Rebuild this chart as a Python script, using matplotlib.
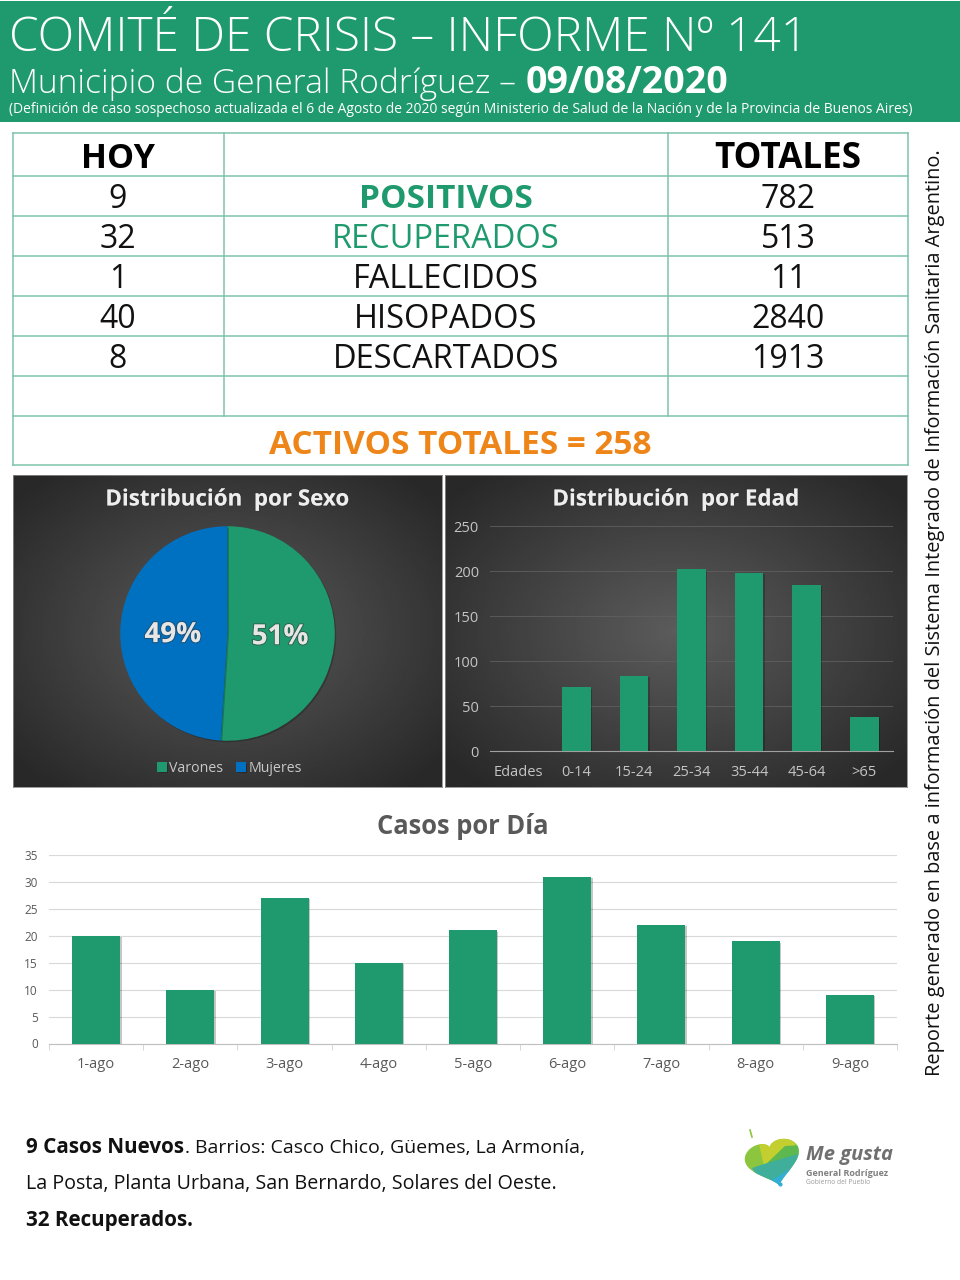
import numpy as np
import matplotlib
matplotlib.use("Agg")
import matplotlib.pyplot as plt
import matplotlib.patheffects as pe
from matplotlib.patches import Rectangle, Polygon

plt.rcParams['font.family'] = ['Open Sans', 'DejaVu Sans']

W, H = 960, 1280
GREEN = '#1f9a6e'
BLUE = '#0070c0'
LINE = '#7fc4a9'
ORANGE = '#ee8518'

# tabla
hoy = ['9', '32', '1', '40', '8']
etiquetas = ['POSITIVOS', 'RECUPERADOS', 'FALLECIDOS', 'HISOPADOS', 'DESCARTADOS']
totales = ['782', '513', '11', '2840', '1913']

# graficos
sexo_labels = ['Varones', 'Mujeres']
sexo_vals = [51, 49]
edad_labels = ['Edades', '0-14', '15-24', '25-34', '35-44', '45-64', '>65']
edad_vals = [0, 71, 84, 202, 198, 185, 38]
dias = ['1-ago', '2-ago', '3-ago', '4-ago', '5-ago', '6-ago', '7-ago', '8-ago', '9-ago']
casos = [20, 10, 27, 15, 21, 31, 22, 19, 9]


def caja(x0, y0, x1, y1, **kw):
    # ejes en pixeles de la imagen, y para abajo
    return fig.add_axes([x0 / W, 1 - y1 / H, (x1 - x0) / W, (y1 - y0) / H], **kw)


def fondo_oscuro(x0, y0, x1, y1):
    ax = caja(x0, y0, x1, y1)
    yy, xx = np.mgrid[-1:1:200j, -1:1:200j]
    r = np.clip(np.sqrt(xx ** 2 + yy ** 2) / 1.3, 0, 1)
    ax.imshow(0.36 - 0.20 * r, cmap='gray', vmin=0, vmax=1, aspect='auto', interpolation='bilinear')
    ax.set_xticks([])
    ax.set_yticks([])
    for s in ax.spines.values():
        s.set_color('#8a8a8a')
        s.set_linewidth(0.6)
    return ax


sombra = [pe.withSimplePatchShadow(offset=(1, -1), shadow_rgbFace='k', alpha=0.22)]
sombra_txt = [pe.withStroke(linewidth=1.5, foreground='#33333380')]

fig = plt.figure(figsize=(9.6, 12.8), dpi=100, facecolor='white')

# capa de fondo en pixeles
bg = fig.add_axes([0, 0, 1, 1])
bg.set_xlim(0, W)
bg.set_ylim(H, 0)
bg.axis('off')

bg.add_patch(Rectangle((0, 1), W, 121, color=GREEN, lw=0))
bg.text(9, 51, 'COMITÉ DE CRISIS – INFORME Nº 141', color='white', fontsize=34.4, va='baseline', fontweight='light')
bg.text(9, 93, 'Municipio de General Rodríguez – ', color='white', fontsize=24.1, va='baseline', fontweight='light')
bg.text(526, 93, '09/08/2020', color='white', fontsize=27, va='baseline', fontweight='bold')
bg.text(9, 113, '(Definición de caso sospechoso actualizada el 6 de Agosto de 2020 según Ministerio de Salud de la Nación y de la Provincia de Buenos Aires)',
        color='white', fontsize=9.97, va='baseline')

# grilla de la tabla
ys = [133, 176, 216, 256, 296, 336, 376, 416, 465]
for y in ys:
    bg.plot([13, 908], [y, y], color=LINE, lw=1.1)
for x in [13, 908]:
    bg.plot([x, x], [133, 465], color=LINE, lw=1.1)
for x in [224, 668]:
    bg.plot([x, x], [133, 416], color=LINE, lw=1.1)

bg.text(118, 159, 'HOY', fontsize=24.5, fontweight='bold', ha='center', va='center', color='k')
bg.text(788, 159, 'TOTALES', fontsize=25.2, fontweight='bold', ha='center', va='center', color='k')
for i in range(len(hoy)):
    yc = (ys[i + 1] + ys[i + 2]) / 2 + 4
    bg.text(118, yc, hoy[i], fontsize=23, ha='center', va='center', color='#111111')
    bg.text(788, yc, totales[i], fontsize=23, ha='center', va='center', color='#111111')
    col = GREEN if i < 2 else '#111111'
    bg.text(446, yc, etiquetas[i], fontsize=24 if i == 0 else 23.5, ha='center', va='center', color=col,
            fontweight='bold' if i == 0 else 'normal')
bg.text(460, 446, 'ACTIVOS TOTALES = 258', fontsize=24, fontweight='bold', ha='center', va='center', color=ORANGE)

bg.text(935, 612.5, 'Reporte generado en base a información del Sistema Integrado de Información Sanitaria Argentino.',
        rotation=90, fontsize=14.4, ha='center', va='center', color='#111111')

# torta
fondo_oscuro(13, 475, 442, 787)
bg2 = caja(13, 475, 442, 787)
bg2.axis('off')
bg2.text(0.5, 0.92, 'Distribución  por Sexo', transform=bg2.transAxes, color='#eeeeee', fontsize=16.1, fontweight='bold',
         ha='center', va='center', path_effects=sombra_txt)
ax = caja(117, 523, 338, 744)
wedges, _ = ax.pie(sexo_vals, colors=[GREEN, BLUE], startangle=90, counterclock=False, radius=1.0,
                   wedgeprops={'linewidth': 0, 'path_effects': sombra})
ax.set_xlim(-1.03, 1.03)
ax.set_ylim(-1.03, 1.03)
ax.text(0.49, -0.03, '51%', color='#e6e6e6', fontsize=20, fontweight='bold', ha='center', va='center', path_effects=sombra_txt)
ax.text(-0.51, -0.01, '49%', color='#e6e6e6', fontsize=20, fontweight='bold', ha='center', va='center', path_effects=sombra_txt)
leg = bg2.legend(wedges, sexo_labels, loc='center', bbox_to_anchor=(0.505, 0.059), ncol=2, frameon=False, fontsize=10.2,
                 labelcolor='#c8c8c8', handlelength=0.65, handleheight=0.65, handletextpad=0.2, columnspacing=0.9)

# edades
fondo_oscuro(445, 475, 907, 787)
bg3 = caja(445, 475, 907, 787)
bg3.axis('off')
bg3.text(0.5, 0.92, 'Distribución  por Edad', transform=bg3.transAxes, color='#eeeeee', fontsize=16.1, fontweight='bold',
         ha='center', va='center', path_effects=sombra_txt)
ax = caja(490, 526, 893, 751.2)
ax.patch.set_alpha(0)
ax.bar(edad_labels, edad_vals, width=0.5, color=GREEN, zorder=3, path_effects=sombra)
ax.set_xlim(-0.5, 6.5)
ax.set_ylim(0, 250)
ax.set_yticks(range(0, 251, 50))
ax.grid(axis='y', color='#5f5f5f', lw=0.6)
ax.set_axisbelow(True)
for s in ['top', 'left', 'right']:
    ax.spines[s].set_visible(False)
ax.spines['bottom'].set_color('#a0a0a0')
ax.tick_params(length=0, colors='#c4c4c4', labelsize=10.5)
ax.tick_params(axis='x', pad=10)
ax.tick_params(axis='y', pad=8)

# casos por dia
bg.text(463, 827, 'Casos por Día', fontsize=18.4, fontweight='bold', ha='center', va='center', color='#595959')
ax = caja(49, 855, 897, 1043.5)
ax.patch.set_alpha(0)
ax.bar(dias, casos, width=0.51, color=GREEN, zorder=3, path_effects=sombra)
ax.set_xlim(-0.5, 8.5)
ax.set_ylim(0, 35)
ax.set_yticks(range(0, 36, 5))
ax.grid(axis='y', color='#d9d9d9', lw=0.8)
ax.set_axisbelow(True)
for s in ['top', 'left', 'right']:
    ax.spines[s].set_visible(False)
ax.spines['bottom'].set_color('#bfbfbf')
ax.set_xticks(np.arange(-0.5, 9), minor=True)
ax.tick_params(axis='x', which='minor', length=4, color='#d0d0d0')
ax.tick_params(axis='x', which='major', length=0, colors='#595959', labelsize=10.5, pad=10)
ax.tick_params(axis='y', length=0, colors='#595959', labelsize=8.5, pad=8)

# texto de abajo
bg.text(26, 1153, '9 Casos Nuevos', fontsize=14.9, fontweight='bold', color='#111111')
bg.text(185, 1153, '.', fontsize=14, color='#111111')
bg.text(195, 1153, 'Barrios: Casco Chico, Güemes, La Armonía,', fontsize=14, color='#111111')
bg.text(26, 1189, 'La Posta, Planta Urbana, San Bernardo, Solares del Oeste.', fontsize=14.2, color='#111111')
bg.text(26, 1226, '32 Recuperados.', fontsize=14.9, fontweight='bold', color='#111111')

# logo
t = np.linspace(0, 2 * np.pi, 100)
hx0 = 1.72 * 16 * np.sin(t) ** 3
hy0 = -1.72 * (13 * np.cos(t) - 3.5 * np.cos(2 * t) - 1.5 * np.cos(3 * t) - 0.5 * np.cos(4 * t))
ang = np.deg2rad(-14)
hx = 773 + hx0 * np.cos(ang) - hy0 * np.sin(ang)
hy = 1160 + hx0 * np.sin(ang) + hy0 * np.cos(ang)
heart = Polygon(np.c_[hx, hy], closed=True, color='#8cc63f', lw=0)
bg.add_patch(heart)
for pts, c in [([(756, 1130), (795, 1130), (795, 1146), (764, 1166)], '#c3cf2f'),
               ([(764, 1166), (785, 1146), (805, 1145), (805, 1160)], '#5cb84f'),
               ([(752, 1168), (764, 1164), (805, 1152), (805, 1190), (765, 1190)], '#3fae9a'),
               ([(772, 1180), (805, 1160), (805, 1190), (772, 1190)], '#33aed6')]:
    p = Polygon(pts, closed=True, color=c, lw=0)
    bg.add_patch(p)
    p.set_clip_path(heart)
bg.plot([750, 752], [1130, 1137], color='#8cc63f', lw=1.2)
bg.plot([780], [1184], 'o', ms=2, color='#33aed6')
bg.text(806, 1160, 'Me gusta', fontsize=14.5, style='italic', fontweight='bold', color='#707070')
bg.text(806, 1176, 'General Rodríguez', fontsize=6.5, fontweight='bold', color='#808080')
bg.text(806, 1184, 'Gobierno del Pueblo', fontsize=4.8, color='#9a9a9a')

fig.savefig('out.png', dpi=100)
